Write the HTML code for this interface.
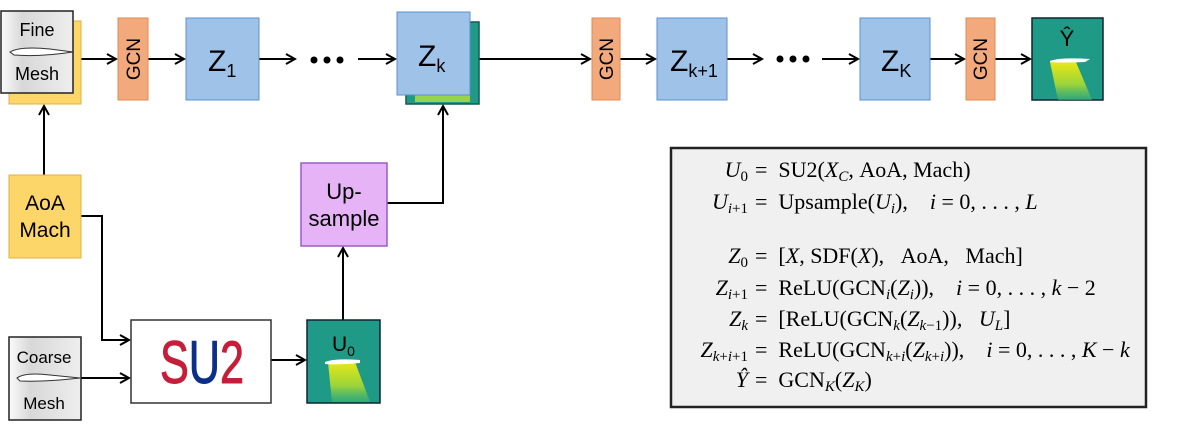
<!DOCTYPE html>
<html><head><meta charset="utf-8"><style>
html,body{margin:0;padding:0;background:#fff;width:1200px;height:435px;overflow:hidden}
svg{display:block}
.s{font-family:"Liberation Sans",sans-serif}
.m{font-family:"Liberation Serif",serif;font-size:22px}
</style></head><body>
<svg width="1200" height="435" viewBox="0 0 1200 435" xmlns="http://www.w3.org/2000/svg">
<defs>
<marker id="a" markerWidth="12" markerHeight="12" refX="10" refY="6" orient="auto" markerUnits="userSpaceOnUse">
<path d="M1,1 L10,6 L1,11" fill="none" stroke="#000" stroke-width="2"/></marker>
<linearGradient id="plume" x1="0" y1="0" x2="0" y2="1">
<stop offset="0" stop-color="#e8e817"/><stop offset="0.6" stop-color="#9ad33a"/><stop offset="1" stop-color="#3bb372" stop-opacity="0.6"/></linearGradient>
<linearGradient id="mesh" x1="0" y1="0" x2="1" y2="0">
<stop offset="0" stop-color="#fafafa"/><stop offset="0.3" stop-color="#d8d8d8"/><stop offset="1" stop-color="#eeeeee"/></linearGradient>
</defs>
<g stroke="#000" stroke-width="2" fill="none">
<line x1="81" y1="59" x2="116" y2="59" marker-end="url(#a)"/>
<line x1="148" y1="59" x2="184" y2="59" marker-end="url(#a)"/>
<line x1="259" y1="59" x2="295" y2="59" marker-end="url(#a)"/>
<line x1="358" y1="59" x2="395" y2="59" marker-end="url(#a)"/>
<line x1="479" y1="59" x2="590" y2="59" marker-end="url(#a)"/>
<line x1="620" y1="59" x2="655" y2="59" marker-end="url(#a)"/>
<line x1="727" y1="59" x2="762" y2="59" marker-end="url(#a)"/>
<line x1="822" y1="59" x2="858" y2="59" marker-end="url(#a)"/>
<line x1="930" y1="59" x2="964" y2="59" marker-end="url(#a)"/>
<line x1="995" y1="59" x2="1030" y2="59" marker-end="url(#a)"/>
<line x1="44" y1="175" x2="44" y2="106" marker-end="url(#a)"/>
<polyline points="81,216 102,216 102,340 129,340" marker-end="url(#a)"/>
<line x1="81" y1="378" x2="129" y2="378" marker-end="url(#a)"/>
<line x1="271" y1="360" x2="305" y2="360" marker-end="url(#a)"/>
<line x1="343" y1="320" x2="343" y2="248" marker-end="url(#a)"/>
<polyline points="387,203 443,203 443,106" marker-end="url(#a)"/>
</g>
<g fill="#000"><circle cx="314" cy="60" r="3.5"/><circle cx="327" cy="60" r="3.5"/><circle cx="340" cy="60" r="3.5"/>
<circle cx="780" cy="59" r="3.5"/><circle cx="793" cy="59" r="3.5"/><circle cx="806" cy="59" r="3.5"/></g>
<rect x="9" y="21" width="72" height="83" fill="#fdd66a" stroke="#e0b040"/>
<rect x="1" y="11" width="72" height="82" fill="url(#mesh)" stroke="#222" stroke-width="1.5"/>
<path d="M10,52 Q20,46 50,49 L73,52 Q40,57 14,55 Z" fill="#fff" stroke="#333"/>
<text class="s" x="37" y="36" font-size="18" text-anchor="middle">Fine</text>
<text class="s" x="37" y="80" font-size="18" text-anchor="middle">Mesh</text>
<g fill="#f2aa7c" stroke="#e08a55">
<rect x="118" y="18" width="30" height="82"/><rect x="592" y="18" width="28" height="82"/><rect x="966" y="18" width="29" height="82"/></g>
<g class="s" font-size="19">
<text transform="translate(140,59) rotate(-90)" text-anchor="middle">GCN</text>
<text transform="translate(613,59) rotate(-90)" text-anchor="middle">GCN</text>
<text transform="translate(987,59) rotate(-90)" text-anchor="middle">GCN</text></g>
<g fill="#9fc3e8" stroke="#5b8fce">
<rect x="186" y="18" width="73" height="82"/>
<rect x="657" y="18" width="70" height="82"/>
<rect x="860" y="18" width="70" height="82"/></g>
<rect x="406" y="22" width="73" height="82" fill="#1f9a86" stroke="#135a50" stroke-width="1.5"/>
<rect x="415" y="92" width="55" height="10" fill="#b8e040" opacity="0.8"/>
<rect x="397" y="12" width="73" height="83" fill="#9fc3e8" stroke="#5b8fce"/>
<g class="s" font-size="30">
<text x="208" y="71">Z<tspan font-size="18" dy="6">1</tspan></text>
<text x="418" y="66">Z<tspan font-size="18" dy="6">k</tspan></text>
<text x="670" y="71">Z<tspan font-size="18" dy="6">k+1</tspan></text>
<text x="881" y="71">Z<tspan font-size="18" dy="6">K</tspan></text></g>
<rect x="1032" y="18" width="71" height="82" fill="#1f9a86" stroke="#123" stroke-width="1.5"/>
<polygon points="1050,62 1076,62 1092,100 1058,100" fill="url(#plume)"/>
<path d="M1050,61 Q1060,57 1090,59 L1085,62 Q1060,63 1050,62 Z" fill="#fff"/>
<text class="s" x="1067" y="46" font-size="22" text-anchor="middle">Ŷ</text>
<rect x="9" y="175" width="72" height="83" fill="#fdd66a" stroke="#e0b040"/>
<text class="s" x="45" y="210" font-size="21" text-anchor="middle">AoA</text>
<text class="s" x="45" y="237" font-size="21" text-anchor="middle">Mach</text>
<rect x="9" y="337" width="72" height="83" fill="url(#mesh)" stroke="#222" stroke-width="1.5"/>
<path d="M17,378 Q25,372 50,375 L80,378 Q45,382 20,381 Z" fill="#fff" stroke="#333"/>
<text class="s" x="44" y="363" font-size="17" text-anchor="middle">Coarse</text>
<text class="s" x="44" y="409" font-size="17" text-anchor="middle">Mesh</text>
<rect x="131" y="320" width="140" height="83" fill="#fff" stroke="#333" stroke-width="1.5"/>
<text class="s" x="160" y="383" font-size="60" fill="#c41e3a" textLength="84" lengthAdjust="spacingAndGlyphs" stroke="#c41e3a" stroke-width="1">S<tspan fill="#0b2f8a" stroke="#0b2f8a">U</tspan>2</text>
<rect x="307" y="320" width="73" height="83" fill="#1f9a86" stroke="#123" stroke-width="1.5"/>
<polygon points="328,362 355,362 370,402 332,402" fill="url(#plume)"/>
<path d="M325,362 Q335,358 360,360 L360,363 Q335,365 325,364 Z" fill="#fff"/>
<text class="s" x="332" y="351" font-size="21">U<tspan font-size="14" dy="5">0</tspan></text>
<rect x="301" y="163" width="86" height="83" fill="#e5b3f6" stroke="#9a5cc0" stroke-width="1.5"/>
<text class="s" x="344" y="199" font-size="22" text-anchor="middle">Up-</text>
<text class="s" x="344" y="226" font-size="22" text-anchor="middle">sample</text>
<rect x="671" y="148" width="475" height="259" fill="#f0f0f0" stroke="#222" stroke-width="2.5"/>
<g class="m">
<g text-anchor="end" font-style="italic">
<text x="748" y="177">U<tspan font-size="15" dy="4" font-style="normal">0</tspan></text>
<text x="748" y="209">U<tspan font-size="15" dy="4">i</tspan><tspan font-size="15" font-style="normal">+1</tspan></text>
<text x="748" y="263">Z<tspan font-size="15" dy="4" font-style="normal">0</tspan></text>
<text x="748" y="295">Z<tspan font-size="15" dy="4">i</tspan><tspan font-size="15" font-style="normal">+1</tspan></text>
<text x="748" y="326">Z<tspan font-size="15" dy="4">k</tspan></text>
<text x="748" y="357">Z<tspan font-size="15" dy="4">k</tspan><tspan font-size="15" font-style="normal">+</tspan><tspan font-size="15">i</tspan><tspan font-size="15" font-style="normal">+1</tspan></text>
<text x="748" y="387">Ŷ</text></g>
<text x="755" y="177">=&#160;&#160;SU2(<tspan font-style="italic">X</tspan><tspan font-size="15" dy="4" font-style="italic">C</tspan><tspan dy="-4">,&#160;AoA,&#160;Mach)</tspan></text>
<text x="755" y="209">=&#160;&#160;Upsample(<tspan font-style="italic">U</tspan><tspan font-size="15" dy="4" font-style="italic">i</tspan><tspan dy="-4">),&#160;&#160;&#160;&#160;</tspan><tspan font-style="italic">i</tspan>&#160;=&#160;0,&#160;.&#160;.&#160;.&#160;,&#160;<tspan font-style="italic">L</tspan></text>
<text x="755" y="263">=&#160;&#160;[<tspan font-style="italic">X</tspan>,&#160;SDF(<tspan font-style="italic">X</tspan>),&#160;&#160;&#160;AoA,&#160;&#160;&#160;Mach]</text>
<text x="755" y="295">=&#160;&#160;ReLU(GCN<tspan font-size="15" dy="4" font-style="italic">i</tspan><tspan dy="-4">(</tspan><tspan font-style="italic">Z</tspan><tspan font-size="15" dy="4" font-style="italic">i</tspan><tspan dy="-4">)),&#160;&#160;&#160;&#160;</tspan><tspan font-style="italic">i</tspan>&#160;=&#160;0,&#160;.&#160;.&#160;.&#160;,&#160;<tspan font-style="italic">k</tspan>&#160;−&#160;2</text>
<text x="755" y="326">=&#160;&#160;[ReLU(GCN<tspan font-size="15" dy="4" font-style="italic">k</tspan><tspan dy="-4">(</tspan><tspan font-style="italic">Z</tspan><tspan font-size="15" dy="4"><tspan font-style="italic">k</tspan>−1</tspan><tspan dy="-4">)),&#160;&#160;&#160;</tspan><tspan font-style="italic">U</tspan><tspan font-size="15" dy="4" font-style="italic">L</tspan><tspan dy="-4">]</tspan></text>
<text x="755" y="357">=&#160;&#160;ReLU(GCN<tspan font-size="15" dy="4"><tspan font-style="italic">k</tspan>+<tspan font-style="italic">i</tspan></tspan><tspan dy="-4">(</tspan><tspan font-style="italic">Z</tspan><tspan font-size="15" dy="4"><tspan font-style="italic">k</tspan>+<tspan font-style="italic">i</tspan></tspan><tspan dy="-4">)),&#160;&#160;&#160;&#160;</tspan><tspan font-style="italic">i</tspan>&#160;=&#160;0,&#160;.&#160;.&#160;.&#160;,&#160;<tspan font-style="italic">K</tspan>&#160;−&#160;<tspan font-style="italic">k</tspan></text>
<text x="755" y="387">=&#160;&#160;GCN<tspan font-size="15" dy="4" font-style="italic">K</tspan><tspan dy="-4">(</tspan><tspan font-style="italic">Z</tspan><tspan font-size="15" dy="4" font-style="italic">K</tspan><tspan dy="-4">)</tspan></text>
</g>
</svg>
</body></html>
